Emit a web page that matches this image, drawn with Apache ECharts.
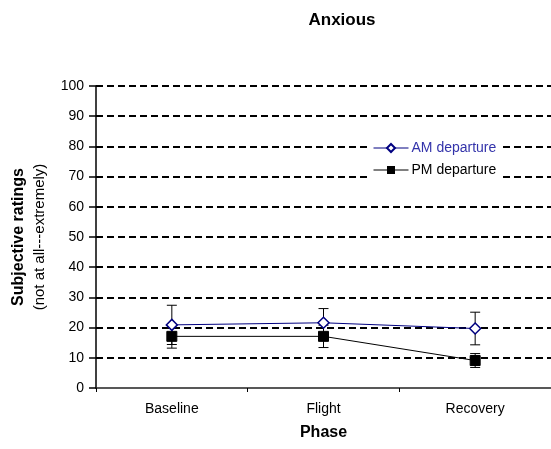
<!DOCTYPE html>
<html><head><meta charset="utf-8">
<script src="https://cdn.jsdelivr.net/npm/echarts@6/dist/echarts.min.js"></script>
<style>html,body{margin:0;padding:0;background:#fff}#c{width:551px;height:449px}</style>
</head><body><div id="c"></div>
<script>
var categories = ['Baseline', 'Flight', 'Recovery'];
var amMean = [20.9, 21.6, 19.7];
var amErr = [6.5, 4.7, 5.4];
var pmMean = [17.1, 17.1, 9.1];
var pmErr = [3.9, 3.7, 2.3];
var yTicks = [0, 10, 20, 30, 40, 50, 60, 70, 80, 90, 100];

function errData(mean, err) {
  return mean.map(function (m, i) { return [i, m - err[i], m + err[i]]; });
}
function errRender(params, api) {
  var x = api.value(0);
  var lo = api.coord([x, api.value(1)]);
  var hi = api.coord([x, api.value(2)]);
  var w = 5;
  var st = { stroke: '#000', lineWidth: 1 };
  return { type: 'group', children: [
    { type: 'line', shape: { x1: lo[0], y1: lo[1], x2: hi[0], y2: hi[1] }, style: st },
    { type: 'line', shape: { x1: lo[0] - w, y1: lo[1], x2: lo[0] + w, y2: lo[1] }, style: st },
    { type: 'line', shape: { x1: hi[0] - w, y1: hi[1], x2: hi[0] + w, y2: hi[1] }, style: st }
  ]};
}

var chart = echarts.init(document.getElementById('c'));
chart.setOption({
  animation: false,
  textStyle: { fontFamily: 'Liberation Sans, Arial, sans-serif' },
  title: { text: 'Anxious', left: 337, top: 7, textAlign: 'center',
    textStyle: { fontSize: 17, fontWeight: 'bold', color: '#000', fontFamily: 'Liberation Sans' } },
  legend: {
    orient: 'vertical', left: 370, top: 139, itemGap: 8, itemWidth: 35, itemHeight: 10,
    backgroundColor: '#fff', padding: [2, 4, 2, 3],
    lineStyle: { width: 1 },
    textStyle: { fontSize: 14, fontFamily: 'Liberation Sans', padding: [0, 0, 0, -2] },
    data: [
      { name: 'AM departure', textStyle: { color: '#3333aa' } },
      { name: 'PM departure', textStyle: { color: '#000' } }
    ]
  },
  grid: { left: 96, right: 0, top: 86, bottom: 61, containLabel: false, outerBoundsMode: 'none' },
  xAxis: {
    type: 'category', data: categories, boundaryGap: true,
    name: 'Phase', nameLocation: 'middle', nameGap: 37,
    nameTextStyle: { fontSize: 16, fontWeight: 'bold', color: '#000' },
    axisLine: { lineStyle: { color: '#222', width: 1.5 } },
    axisTick: { show: true, length: 4, lineStyle: { color: '#000' } },
    axisLabel: { color: '#000', fontSize: 14, margin: 14 }
  },
  yAxis: {
    type: 'value', min: yTicks[0], max: yTicks[yTicks.length - 1], interval: 10,
    name: '{b|Subjective ratings}\n{n|(not at all---extremely)}',
    nameLocation: 'middle', nameGap: 46, nameRotate: 90,
    nameTextStyle: { color: '#000', rich: {
      b: { fontSize: 16, fontWeight: 'bold', color: '#000', lineHeight: 21, fontFamily: 'Liberation Sans' },
      n: { fontSize: 15, color: '#000', lineHeight: 21, fontFamily: 'Liberation Sans' } } },
    axisLine: { show: true, lineStyle: { color: '#000', width: 1.5 } },
    axisTick: { show: true, length: 7, inside: false, lineStyle: { color: '#000', width: 1.5 } },
    axisLabel: { color: '#000', fontSize: 14, margin: 12 },
    splitLine: { show: true, showMinLine: false, lineStyle: { color: '#000', width: 2, type: [7, 4] } }
  },
  series: [
    { name: 'AM err', type: 'custom', renderItem: errRender, data: errData(amMean, amErr), z: 1, silent: true },
    { name: 'PM err', type: 'custom', renderItem: errRender, data: errData(pmMean, pmErr), z: 1, silent: true },
    { name: 'AM departure', type: 'line', data: amMean, z: 3,
      symbol: 'diamond', symbolSize: 11,
      lineStyle: { color: '#000080', width: 1 },
      itemStyle: { color: '#fff', borderColor: '#000080', borderWidth: 1.5 } },
    { name: 'PM departure', type: 'line', data: pmMean, z: 2,
      symbol: 'rect', symbolSize: 10,
      lineStyle: { color: '#000', width: 1 },
      itemStyle: { color: '#000', borderColor: '#000' } }
  ]
});
</script></body></html>
